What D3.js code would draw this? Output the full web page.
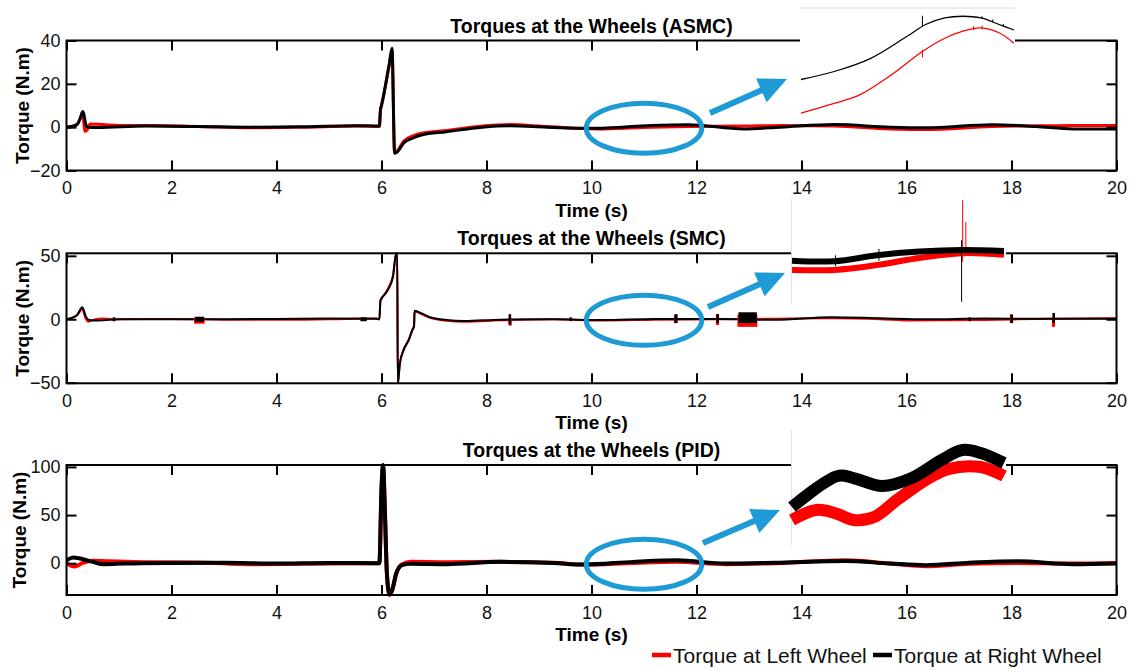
<!DOCTYPE html>
<html>
<head>
<meta charset="utf-8">
<script src="https://cdn.jsdelivr.net/npm/d3@7"></script>
<style>
body { margin: 0; background: #fff; }
svg { display: block; font-family: "Liberation Sans", Arial, sans-serif; }
</style>
</head>
<body>
<svg id="chart" width="1134" height="670"></svg>
<script>
// ---- data ----
var timeTicks = [0, 2, 4, 6, 8, 10, 12, 14, 16, 18, 20];
var asmcTicks = [-20, 0, 20, 40];
var smcTicks = [-50, 0, 50];
var pidTicks = [0, 50, 100];

// [time (s), torque (N.m)]
var asmcLeft = [[0,0],[0.1,0.3],[0.2,1.2],[0.26,3.8],[0.31,6.5],[0.33,2],[0.35,-2],[0.4,-1],[0.45,1.5],[0.7,1.2],[1.0,0.8],[1.7,0.8],[2.5,0.3],[3.5,-0.3],[4.5,0],[5.5,0.5],[5.96,0.3],[5.98,8],[6.0,10],[6.15,29],[6.2,35.5],[6.25,-12],[6.3,-11],[6.42,-6.5],[6.6,-4],[6.76,-2.8],[7.24,-1.5],[7.92,0.5],[8.45,1.2],[9.15,0.3],[10.1,-0.8],[11.15,0],[11.84,0.3],[12.9,0.5],[13.6,0.8],[14.63,0.5],[15.68,-0.8],[16.37,-1.1],[17.63,0.3],[18.47,0.6],[19.17,0.8],[20,0.8]];
var asmcRight = [[0,0],[0.1,0.3],[0.2,1.2],[0.26,4],[0.31,7.2],[0.33,6],[0.36,2],[0.4,0],[0.6,-0.2],[1.5,0.5],[2.5,0.3],[3.5,0],[4.5,0.2],[5.5,0.7],[5.96,0.5],[5.98,8],[6.0,10],[6.15,29.5],[6.2,36.4],[6.25,-12],[6.3,-11.5],[6.42,-7.4],[6.6,-5],[6.76,-3.6],[7.24,-2.1],[7.92,0],[8.45,0.6],[9.15,0],[10.1,-0.5],[11.15,0.8],[11.84,1.1],[12.9,-0.8],[13.6,0],[14.63,1.2],[15.68,0],[16.37,-0.3],[17.63,1.1],[18.47,0.3],[19.17,-0.8],[20,-0.8]];

var smcLeft = [[0,0],[0.2,3],[0.3,8],[0.36,1],[0.42,-1.9],[0.5,-0.5],[0.7,0.5],[1.0,0],[2,0.2],[3,-0.3],[4,-0.4],[5,0],[5.9,0.5],[5.96,0],[5.98,14],[6.08,21],[6.14,25.5],[6.22,35],[6.28,52],[6.3,52],[6.31,-50.5],[6.32,-48],[6.35,-35],[6.42,-24.5],[6.52,-16],[6.59,-8],[6.62,-5],[6.63,6.5],[6.69,5.5],[6.9,1.5],[7.24,-1.2],[7.58,-2],[8.26,-0.8],[9.28,0],[10.2,-1],[11.2,-0.3],[12.4,0],[13.5,0.4],[14.56,0.8],[15.5,0],[16.03,-1],[17.5,-0.5],[18.5,0.2],[19.86,0.8],[20,0.8]];
var smcRight = [[0,0],[0.2,3.4],[0.3,9.5],[0.37,2],[0.43,-0.6],[0.5,-1],[0.7,-0.8],[1.0,0],[2,0],[3,0],[4,0.2],[5,0.5],[5.9,0.3],[5.96,0],[5.98,15],[6.08,20.5],[6.14,24.5],[6.22,33.6],[6.28,52],[6.3,52],[6.31,-50.5],[6.32,-47.9],[6.35,-34.7],[6.42,-24.2],[6.52,-16.3],[6.59,-8.4],[6.62,-5.8],[6.63,6.8],[6.69,6],[6.9,2],[7.24,-0.6],[7.58,-1.4],[8.26,-0.3],[9.28,0],[10.2,-0.6],[11.2,0.2],[12.4,0.2],[13.5,-0.4],[14.56,1.6],[15.5,0.8],[16.37,0],[17.5,0.5],[18.5,0.3],[19.86,0.3],[20,0.3]];
// chattering bursts: [t start, t end, min, max]
var smcLeftBursts = [[0.88,0.93,-1.5,1],[2.43,2.63,-3.5,1.5],[5.6,5.7,-1.5,1],[8.42,8.48,-5,1],[11.57,11.63,-3,3],[12.37,12.43,-4.5,4],[12.78,13.16,-6,3.5],[17.97,18.03,-3,4],[18.77,18.83,-6,0]];
var smcRightBursts = [[0.88,0.93,-1.5,1.5],[2.45,2.62,-2,2],[5.6,5.72,-1.5,1.5],[8.42,8.47,-4,4],[9.58,9.62,-1.5,1.5],[11.58,11.64,-3,4],[12.38,12.42,-3,4],[12.8,13.15,-3,5.5],[17.18,17.22,-1.5,1.5],[17.98,18.02,-3,3.5],[18.78,18.82,-3,5]];

var pidLeft = [[0,0],[0.15,-3.5],[0.3,0],[0.5,2.5],[0.8,2],[1.5,1],[2.5,0.8],[3.5,-1],[4.5,-0.5],[5.96,0],[6.0,75],[6.03,100],[6.07,44],[6.1,-8],[6.15,-33],[6.2,-29],[6.28,-11],[6.39,-1],[6.56,1.4],[7.24,1],[8.26,1.4],[9.28,0.5],[9.82,-1.4],[10.8,0.3],[11.63,1.4],[12.55,-1],[13.5,0],[14.84,3.1],[15.68,-0.3],[16.37,-3.1],[17.2,-0.5],[18.12,0.3],[19.17,-0.3],[20,0.3]];
var pidRight = [[0,3.1],[0.13,5.9],[0.26,4.9],[0.5,1.4],[0.71,-1],[1.11,-0.3],[2,0.3],[3,0.5],[4,-0.3],[5,0.3],[5.96,0],[6.0,79],[6.03,102],[6.07,44.7],[6.1,-7.3],[6.15,-31.5],[6.2,-28],[6.28,-10.7],[6.39,-2],[6.56,-0.5],[7.24,-1],[8.26,1.4],[9.28,0.3],[9.82,-1.4],[10.8,1.4],[11.63,3.1],[12.55,-0.3],[13.5,0.5],[14.84,2.4],[15.68,-0.3],[16.37,-2],[17.2,0.5],[18.12,2],[19.17,-1],[20,-0.3]];

// zoomed insets of the 10-12 s window (relative torque)
var asmcInsetLeft = [[10,-0.91],[10.32,-0.73],[10.55,-0.58],[10.83,-0.24],[11.14,0.21],[11.35,0.45],[11.52,0.58],[11.69,0.64],[11.86,0.55],[12,0.36]];
var asmcInsetRight = [[10,-0.3],[10.32,-0.15],[10.66,0.09],[11.0,0.49],[11.17,0.7],[11.35,0.82],[11.52,0.85],[11.69,0.82],[11.86,0.7],[12,0.6]];
var asmcInsetLeftSpikes = [[11.14,0.1,0.24],[11.62,0.6,0.67],[11.7,0.61,0.68]];
var asmcInsetRightSpikes = [[11.14,0.66,0.86],[11.7,0.8,0.85],[11.8,0.74,0.79],[11.9,0.66,0.71]];

var smcInsetLeft = [[10,-0.35],[10.4,-0.35],[10.8,-0.26],[11.2,-0.13],[11.6,-0.04],[12,-0.07]];
var smcInsetRight = [[10,-0.18],[10.4,-0.19],[10.8,-0.08],[11.2,-0.01],[11.6,0.02],[12,0]];
var smcInsetLeftSpikes = [[11.61,-0.2,0.94],[11.64,-0.1,0.54]];
var smcInsetRightSpikes = [[11.6,-0.94,0.2],[10.41,-0.28,-0.08],[10.82,-0.18,0.04]];

var pidInsetLeft = [[10,-0.565],[10.23,-0.39],[10.43,-0.46],[10.58,-0.565],[10.78,-0.51],[10.99,-0.217],[11.26,0.13],[11.47,0.32],[11.78,0.357],[12,0.2]];
var pidInsetRight = [[10,-0.34],[10.43,0.2],[10.58,0.165],[10.85,0.026],[11.13,0.165],[11.41,0.478],[11.61,0.652],[11.78,0.6],[12,0.426]];

var legendLabels = ["Torque at Left Wheel", "Torque at Right Wheel"];
var colors = {left: "#ff0000", right: "#000000"};
var blue = "#1e9ad6";

// ---- layout ----
var left = 66.5, right = 1116.5;

var panels = [
    {title: "Torques at the Wheels (ASMC)", top: 40.5, bottom: 170.5, yDomain: [-20, 40], yTicks: asmcTicks,
     lw: 3, leftData: asmcLeft, rightData: asmcRight, leftBursts: [], rightBursts: [], labelX: 29,
     inset: {x0: 800, x1: 1015, y0: 8, y1: 121, cx: [801, 1014], cy: [118, 8], lw: 1.3, topLine: true,
             leftData: asmcInsetLeft, rightData: asmcInsetRight,
             leftSpikes: asmcInsetLeftSpikes, rightSpikes: asmcInsetRightSpikes},
     arrow: [710, 113, 787, 79]},
    {title: "Torques at the Wheels (SMC)", top: 253.3, bottom: 383.3, yDomain: [-50.5, 52], yTicks: smcTicks,
     lw: 2, leftData: smcLeft, rightData: smcRight, leftBursts: smcLeftBursts, rightBursts: smcRightBursts, labelX: 29,
     inset: {x0: 791, x1: 1006, y0: 196, y1: 306, cx: [792, 1004], cy: [305, 197], lw: 6, sideLine: true,
             leftData: smcInsetLeft, rightData: smcInsetRight,
             leftSpikes: smcInsetLeftSpikes, rightSpikes: smcInsetRightSpikes},
     arrow: [708, 307, 785, 273]},
    {title: "Torques at the Wheels (PID)", top: 465, bottom: 595, yDomain: [-33, 102], yTicks: pidTicks,
     lw: 4, leftData: pidLeft, rightData: pidRight, leftBursts: [], rightBursts: [], labelX: 26,
     inset: {x0: 791, x1: 1006, y0: 427, y1: 547, cx: [792, 1004], cy: [545, 430], lw: 12, sideLine: true,
             leftData: pidInsetLeft, rightData: pidInsetRight, leftSpikes: [], rightSpikes: []},
     arrow: [703, 543, 780, 510]}
];

var svg = d3.select("#chart");
var x = d3.scaleLinear().domain([0, 20]).range([left, right]);

panels.forEach(function(p, i) {
    var y = d3.scaleLinear().domain(p.yDomain).range([p.bottom, p.top]);
    var g = svg.append("g");

    var clipId = "clip" + i;
    svg.append("clipPath").attr("id", clipId)
        .append("rect")
            .attr("x", left).attr("y", p.top - 2)
            .attr("width", right - left).attr("height", p.bottom - p.top + 4);

    var line = d3.line()
        .x(d => x(d[0]))
        .y(d => y(d[1]))
        .curve(d3.curveMonotoneX);

    var plot = g.append("g").attr("clip-path", "url(#" + clipId + ")");

    function drawBursts(data, color) {
        plot.append("g")
            .selectAll("rect")
            .data(data)
            .enter()
            .append("rect")
                .attr("x", d => x(d[0]))
                .attr("width", d => Math.max(2.5, x(d[1]) - x(d[0])))
                .attr("y", d => y(d[3]))
                .attr("height", d => y(d[2]) - y(d[3]))
                .attr("fill", color);
    }

    plot.append("path")
        .datum(p.leftData)
        .attr("d", line)
        .attr("fill", "none")
        .attr("stroke", colors.left)
        .attr("stroke-width", p.lw)
        .attr("stroke-linejoin", "round");

    plot.append("path")
        .datum(p.rightData)
        .attr("d", line)
        .attr("fill", "none")
        .attr("stroke", colors.right)
        .attr("stroke-width", p.lw)
        .attr("stroke-linejoin", "round");

    drawBursts(p.leftBursts, colors.left);
    drawBursts(p.rightBursts, colors.right);

    // axes, MATLAB style box with inward ticks
    var axes = g.append("g").attr("class", "axes");

    axes.append("g")
        .attr("transform", `translate(0,${p.bottom})`)
        .call(d3.axisBottom(x).tickValues(timeTicks).tickSize(-10).tickPadding(11).tickFormat(d3.format("d")));
    axes.append("g")
        .attr("transform", `translate(0,${p.top})`)
        .call(d3.axisTop(x).tickValues(timeTicks).tickSize(-10).tickFormat(""));
    axes.append("g")
        .attr("transform", `translate(${left},0)`)
        .call(d3.axisLeft(y).tickValues(p.yTicks).tickSize(-10).tickPadding(6).tickFormat(d3.format("d")));
    axes.append("g")
        .attr("transform", `translate(${right},0)`)
        .call(d3.axisRight(y).tickValues(p.yTicks).tickSize(-10).tickFormat(""));

    axes.selectAll(".domain").remove();
    axes.selectAll(".tick line").attr("stroke", "#000").attr("stroke-width", 2);
    axes.selectAll(".tick text")
        .attr("fill", "#111")
        .style("font-size", "18px")
        .style("font-family", '"Liberation Sans", Arial, sans-serif');

    axes.append("rect")
        .attr("x", left).attr("y", p.top)
        .attr("width", right - left).attr("height", p.bottom - p.top)
        .attr("fill", "none")
        .attr("stroke", "#000")
        .attr("stroke-width", 2);

    // labels
    g.append("text")
        .attr("x", (left + right) / 2)
        .attr("y", p.top - 8)
        .attr("text-anchor", "middle")
        .style("font-size", "19.5px")
        .style("font-weight", "bold")
        .text(p.title);

    g.append("text")
        .attr("x", (left + right) / 2)
        .attr("y", p.bottom + 46)
        .attr("text-anchor", "middle")
        .style("font-size", "19px")
        .style("font-weight", "bold")
        .text("Time (s)");

    g.append("text")
        .attr("transform", `translate(${p.labelX},${(p.top + p.bottom) / 2}) rotate(-90)`)
        .attr("text-anchor", "middle")
        .style("font-size", "19px")
        .style("font-weight", "bold")
        .text("Torque (N.m)");

    // highlight ellipse around the 10-12 s window
    g.append("ellipse")
        .attr("cx", x(11))
        .attr("cy", y(0) + 1)
        .attr("rx", x(12.1) - x(11))
        .attr("ry", 25)
        .attr("fill", "none")
        .attr("stroke", blue)
        .attr("stroke-width", 5);

    // arrow
    var a = p.arrow;
    var dx = a[2] - a[0], dy = a[3] - a[1];
    var len = Math.sqrt(dx * dx + dy * dy);
    var ux = dx / len, uy = dy / len;
    var headLen = 28, headW = 13;
    var bx = a[2] - ux * headLen, by = a[3] - uy * headLen;
    g.append("line")
        .attr("x1", a[0]).attr("y1", a[1])
        .attr("x2", bx + ux * 2).attr("y2", by + uy * 2)
        .attr("stroke", blue)
        .attr("stroke-width", 6);
    g.append("polygon")
        .attr("points", [
            [a[2], a[3]],
            [bx - uy * headW, by + ux * headW],
            [bx + uy * headW, by - ux * headW]
        ].map(q => q.join(",")).join(" "))
        .attr("fill", blue);

    // inset
    var ins = p.inset;
    var ix = d3.scaleLinear().domain([10, 12]).range(ins.cx);
    var iy = d3.scaleLinear().domain([-1, 1]).range(ins.cy);
    var ig = g.append("g");
    ig.append("rect")
        .attr("x", ins.x0).attr("y", ins.y0)
        .attr("width", ins.x1 - ins.x0).attr("height", ins.y1 - ins.y0)
        .attr("fill", "#fff");
    if(ins.topLine) {
        ig.append("line")
            .attr("x1", ins.x0).attr("x2", ins.x1)
            .attr("y1", ins.y0).attr("y2", ins.y0)
            .attr("stroke", "#dcdcdc").attr("stroke-width", 1);
    }
    if(ins.sideLine) {
        ig.append("line")
            .attr("x1", ins.x0 + 0.5).attr("x2", ins.x0 + 0.5)
            .attr("y1", ins.y0 + 3).attr("y2", ins.y1 - 2)
            .attr("stroke", "#e2e2e2").attr("stroke-width", 1);
    }
    var iline = d3.line()
        .x(d => ix(d[0]))
        .y(d => iy(d[1]))
        .curve(d3.curveCatmullRom.alpha(0.5));

    [["leftData", "leftSpikes", colors.left], ["rightData", "rightSpikes", colors.right]].forEach(function(s) {
        ig.append("path")
            .datum(ins[s[0]])
            .attr("d", iline)
            .attr("fill", "none")
            .attr("stroke", s[2])
            .attr("stroke-width", ins.lw);
        ig.append("g")
            .selectAll("line")
            .data(ins[s[1]])
            .enter()
            .append("line")
                .attr("x1", d => ix(d[0])).attr("x2", d => ix(d[0]))
                .attr("y1", d => iy(d[1])).attr("y2", d => iy(d[2]))
                .attr("stroke", s[2])
                .attr("stroke-width", 1);
    });
});

// legend
var legend = svg.append("g").attr("transform", "translate(652,0)");
var legendItems = [
    {label: legendLabels[0], color: colors.left, x: 0},
    {label: legendLabels[1], color: colors.right, x: 221}
];
legendItems.forEach(function(d) {
    legend.append("line")
        .attr("x1", d.x).attr("x2", d.x + 19)
        .attr("y1", 655).attr("y2", 655)
        .attr("stroke", d.color)
        .attr("stroke-width", 4.5);
    legend.append("text")
        .attr("x", d.x + 21)
        .attr("y", 663)
        .style("font-size", "21px")
        .attr("fill", "#111")
        .text(d.label);
});
</script>
</body>
</html>
